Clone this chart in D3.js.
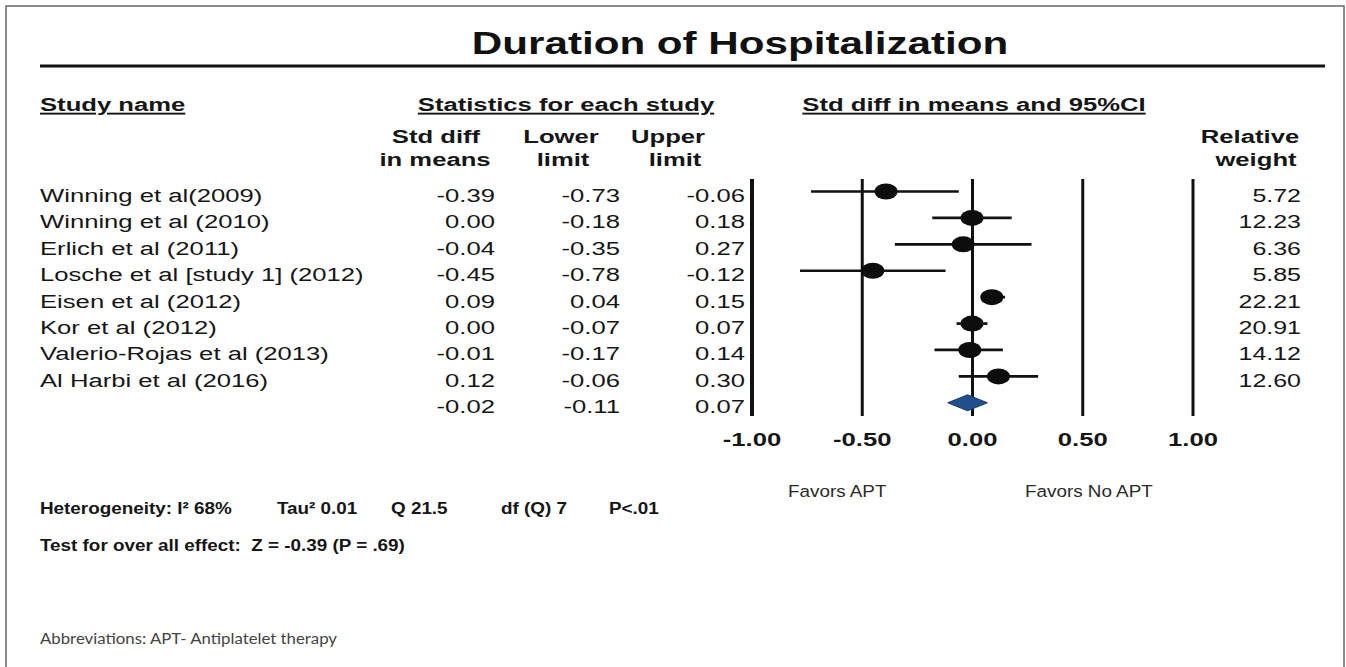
<!DOCTYPE html>
<html>
<head>
<meta charset="utf-8">
<script src="https://cdn.jsdelivr.net/npm/d3@7"></script>
<style>
  body { margin: 0; background: #fff; }
  text { font-family: "Liberation Sans", Arial, sans-serif; }
</style>
</head>
<body>
<div id="canvas"></div>
<script>
// forest plot data
const studies = [
    "Winning et al(2009)",
    "Winning et al (2010)",
    "Erlich et al (2011)",
    "Losche et al [study 1] (2012)",
    "Eisen et al (2012)",
    "Kor et al (2012)",
    "Valerio-Rojas et al (2013)",
    "Al Harbi et al (2016)"
];
const stdDiff = [-0.39, 0.00, -0.04, -0.45, 0.09, 0.00, -0.01, 0.12];
const lowerLimit = [-0.73, -0.18, -0.35, -0.78, 0.04, -0.07, -0.17, -0.06];
const upperLimit = [-0.06, 0.18, 0.27, -0.12, 0.15, 0.07, 0.14, 0.30];
const relWeight = [5.72, 12.23, 6.36, 5.85, 22.21, 20.91, 14.12, 12.60];

const summaryEst = -0.02, summaryLow = -0.11, summaryHigh = 0.07;
const axisTicks = [-1, -0.5, 0, 0.5, 1];

const width = 1346, height = 667;
const SX = 1.35; // the picture is stretched sideways

const svg = d3.select("#canvas")
    .append("svg")
    .attr("width", width)
    .attr("height", height);

// stretched text helper
function label(x, y, str, o) {
    return svg.append("text")
        .attr("transform", "translate(" + x + "," + y + ") scale(" + (o.sx || SX) + ",1)")
        .attr("text-anchor", o.anchor || "start")
        .style("font-size", o.size + "px")
        .style("font-weight", o.bold ? "bold" : "normal")
        .style("text-decoration", o.underline ? "underline" : null)
        .style("font-family", o.family || null)
        .attr("fill", o.fill || "#161616")
        .text(str);
}

// frame
svg.append("path")
    .attr("d", "M6,670 V6 H1344 V670")
    .attr("fill", "none")
    .attr("stroke", "#666")
    .attr("stroke-width", 1.5);

// title
label(740, 54, "Duration of Hospitalization", {size: 31, bold: true, sx: 1.36, anchor: "middle", fill: "#111"});
svg.append("line")
    .attr("x1", 40).attr("x2", 1325)
    .attr("y1", 66).attr("y2", 66)
    .attr("stroke", "#111").attr("stroke-width", 3);

// column headers
label(40, 111, "Study name", {size: 19, bold: true, underline: true});
label(566, 111, "Statistics for each study", {size: 19, bold: true, underline: true, anchor: "middle"});
label(974, 111, "Std diff in means and 95%CI", {size: 19, bold: true, underline: true, anchor: "middle"});

label(436, 143, "Std diff", {size: 19, bold: true, anchor: "middle"});
label(435, 166, "in means", {size: 19, bold: true, anchor: "middle"});
label(561, 143, "Lower", {size: 19, bold: true, anchor: "middle"});
label(563, 166, "limit", {size: 19, bold: true, anchor: "middle"});
label(668, 143, "Upper", {size: 19, bold: true, anchor: "middle"});
label(675, 166, "limit", {size: 19, bold: true, anchor: "middle"});
label(1250, 143, "Relative", {size: 19, bold: true, anchor: "middle"});
label(1256, 166, "weight", {size: 19, bold: true, anchor: "middle"});

// scales
const xScale = d3.scaleLinear()
    .domain([-1, 1])
    .range([751.5, 1192.5]);

const yScale = d3.scaleBand()
    .domain(d3.range(studies.length + 1))
    .range([178.3, 416])
    .padding(0);

const rowY = i => yScale(i) + yScale.bandwidth() / 2;
const fmt = v => v.toFixed(2);

// reference lines + tick labels via axis
const axisTop = 179, axisBottom = 416;
const axis = svg.append("g")
    .attr("transform", "translate(0," + axisBottom + ")")
    .call(d3.axisBottom(xScale)
        .tickValues(axisTicks)
        .tickFormat(fmt)
        .tickSize(-(axisBottom - axisTop))
        .tickPadding(17));
axis.select(".domain").remove();
axis.selectAll(".tick line")
    .attr("stroke", "#111")
    .attr("stroke-width", (d, i) => i === 0 ? 4 : 3);
axis.selectAll(".tick text")
    .attr("fill", "#161616")
    .style("font-size", "19px")
    .style("font-weight", "bold")
    .style("font-family", "'Liberation Sans', Arial, sans-serif")
    .attr("transform", "scale(" + SX + ",1)");

// study rows
studies.forEach((s, i) => {
    const y = rowY(i) + 10.5;
    label(40, y, s, {size: 19});
    label(495, y, fmt(stdDiff[i]), {size: 19, anchor: "end"});
    label(620, y, fmt(lowerLimit[i]), {size: 19, anchor: "end"});
    label(745, y, fmt(upperLimit[i]), {size: 19, anchor: "end"});
    label(1301, y, fmt(relWeight[i]), {size: 18.5, anchor: "end"});
});

// summary row numbers
const sy = rowY(studies.length);
label(495, sy + 10.5, fmt(summaryEst), {size: 19, anchor: "end"});
label(620, sy + 10.5, fmt(summaryLow), {size: 19, anchor: "end"});
label(745, sy + 10.5, fmt(summaryHigh), {size: 19, anchor: "end"});

// confidence intervals
svg.selectAll(".ci")
    .data(studies)
    .enter()
    .append("line")
    .attr("class", "ci")
    .attr("x1", (d, i) => xScale(lowerLimit[i]))
    .attr("x2", (d, i) => xScale(upperLimit[i]))
    .attr("y1", (d, i) => rowY(i))
    .attr("y2", (d, i) => rowY(i))
    .attr("stroke", "#111")
    .attr("stroke-width", 2.7);

// point estimates
svg.selectAll(".pt")
    .data(studies)
    .enter()
    .append("ellipse")
    .attr("class", "pt")
    .attr("cx", (d, i) => xScale(stdDiff[i]))
    .attr("cy", (d, i) => rowY(i))
    .attr("rx", 11.5)
    .attr("ry", 8)
    .attr("fill", "#0d0d0d");

// summary diamond
svg.append("path")
    .attr("d", [
        [xScale(summaryLow), sy],
        [xScale(summaryEst), sy - 8],
        [xScale(summaryHigh), sy],
        [xScale(summaryEst), sy + 8]
    ].map((p, i) => (i ? "L" : "M") + p[0] + "," + p[1]).join("") + "Z")
    .attr("fill", "#1f4f8d")
    .attr("stroke", "#163c6e")
    .attr("stroke-width", 1);

// favours labels
label(788, 497, "Favors APT", {size: 17, sx: 1.11, fill: "#2a2a2a"});
label(1025, 497, "Favors No APT", {size: 17, sx: 1.11, fill: "#2a2a2a"});

// heterogeneity stats
label(40, 514, "Heterogeneity: I\u00b2 68%", {size: 17, bold: true, sx: 1.11});
label(277, 514, "Tau\u00b2 0.01", {size: 17, bold: true, sx: 1.11});
label(391, 514, "Q 21.5", {size: 17, bold: true, sx: 1.11});
label(501, 514, "df (Q) 7", {size: 17, bold: true, sx: 1.11});
label(609, 514, "P<.01", {size: 17, bold: true, sx: 1.11});
label(40, 551, "Test for over all effect:  Z = -0.39 (P = .69)", {size: 17, bold: true, sx: 1.11}).attr("xml:space", "preserve");

label(40, 644, "Abbreviations: APT- Antiplatelet therapy", {size: 15, sx: 1.12, fill: "#444", family: "Lato, 'Open Sans', sans-serif"});
</script>
</body>
</html>
